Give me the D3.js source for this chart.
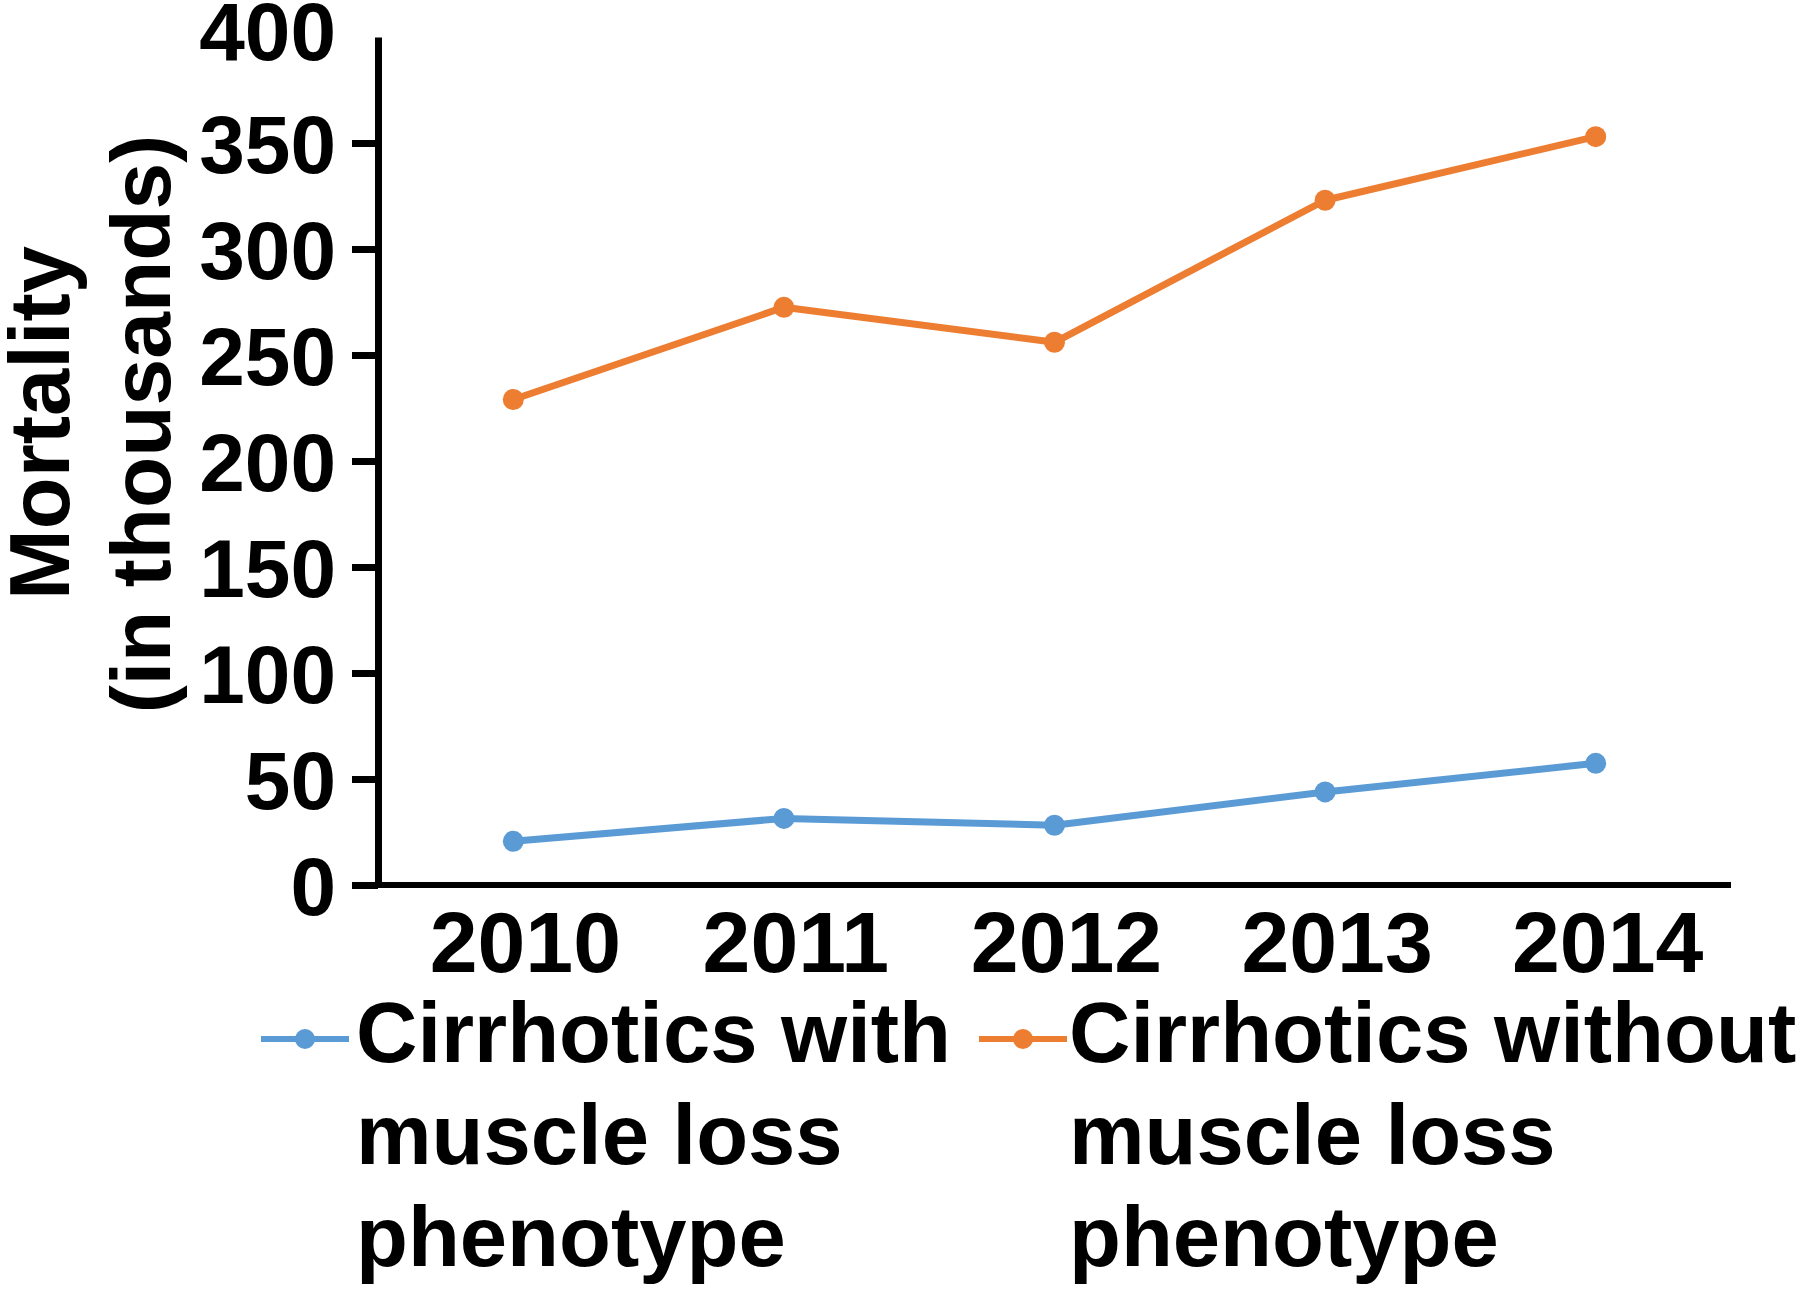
<!DOCTYPE html>
<html><head><meta charset="utf-8">
<script src="https://cdn.jsdelivr.net/npm/d3@7"></script>
<style>body{margin:0;background:#fff}svg{display:block}</style>
</head><body><svg id="c" width="1800" height="1292"></svg>
<script>
const years = ["2010","2011","2012","2013","2014"];
const withLoss = [20.6, 31.4, 28.2, 43.9, 57.4];
const withoutLoss = [229, 272.5, 256, 323, 353];
const yTicks = [0,50,100,150,200,250,300,350,400];
const seriesNames = [["Cirrhotics with","muscle loss","phenotype"],["Cirrhotics without","muscle loss","phenotype"]];
const colors = ["#5B9BD5","#ED7D31"];

const svg = d3.select("#c");
const font = "'Liberation Sans', Arial, sans-serif";
const x = d3.scaleBand().domain(years).range([378,1731]);
const y = d3.scaleLinear().domain([0,400]).range([885,37]);
const cx = d => x(d) + x.bandwidth()/2;

// y axis
const ya = svg.append("g").attr("transform","translate(378,0)")
  .call(d3.axisLeft(y).tickValues(yTicks).tickSize(26).tickSizeOuter(0).tickPadding(16));
ya.select(".domain").attr("stroke","#000").attr("stroke-width",7);
ya.selectAll(".tick line").attr("stroke","#000").attr("stroke-width",7)
  .attr("display",d=>d===400?"none":null);
ya.selectAll(".tick text").attr("font-family",font).attr("font-weight","bold")
  .attr("font-size",82).attr("fill","#000").attr("dy",d=>d===400?"0.28em":"0.36em");

// x axis
const xa = svg.append("g").attr("transform","translate(0,885)")
  .call(d3.axisBottom(x).tickSize(0).tickPadding(26));
xa.select(".domain").remove();
svg.append("line").attr("x1",352).attr("x2",1731).attr("y1",885).attr("y2",885)
  .attr("stroke","#000").attr("stroke-width",6);
xa.selectAll(".tick text").attr("font-family",font).attr("font-weight","bold")
  .attr("font-size",86).attr("fill","#000").attr("dy","0.71em").attr("dx",12);

// lines
[withLoss, withoutLoss].forEach((vals,i)=>{
  const data = years.map((yr,j)=>({yr, v: vals[j]}));
  svg.append("path").datum(data)
    .attr("d", d3.line().x(d=>cx(d.yr)).y(d=>y(d.v)))
    .attr("fill","none").attr("stroke",colors[i]).attr("stroke-width",7)
    .attr("stroke-linejoin","round");
  svg.selectAll(null).data(data).enter().append("circle")
    .attr("cx",d=>cx(d.yr)).attr("cy",d=>y(d.v)).attr("r",10.5).attr("fill",colors[i]);
});

// y title
svg.append("text").attr("transform","translate(38,423) rotate(-90)")
  .attr("text-anchor","middle").attr("font-family",font).attr("font-weight","bold")
  .attr("font-size",85).attr("fill","#000").attr("dy","0.36em").text("Mortality");
svg.append("text").attr("transform","translate(140,424) rotate(-90)")
  .attr("text-anchor","middle").attr("font-family",font).attr("font-weight","bold")
  .attr("font-size",84).attr("fill","#000").attr("dy","0.36em").text("(in thousands)");

// legend
const legX = [261, 979];
seriesNames.forEach((lines,i)=>{
  const g = svg.append("g");
  g.append("line").attr("x1",legX[i]).attr("x2",legX[i]+88).attr("y1",1039).attr("y2",1039)
    .attr("stroke",colors[i]).attr("stroke-width",6);
  g.append("circle").attr("cx",legX[i]+44).attr("cy",1039).attr("r",10).attr("fill",colors[i]);
  const t = g.append("text").attr("font-family",font).attr("font-weight","bold")
    .attr("font-size",85).attr("fill","#000");
  lines.forEach((l,k)=>{
    t.append("tspan").attr("x",legX[i]+(i===0?95:90)).attr("y",1062+k*102).text(l);
  });
});
</script></body></html>
